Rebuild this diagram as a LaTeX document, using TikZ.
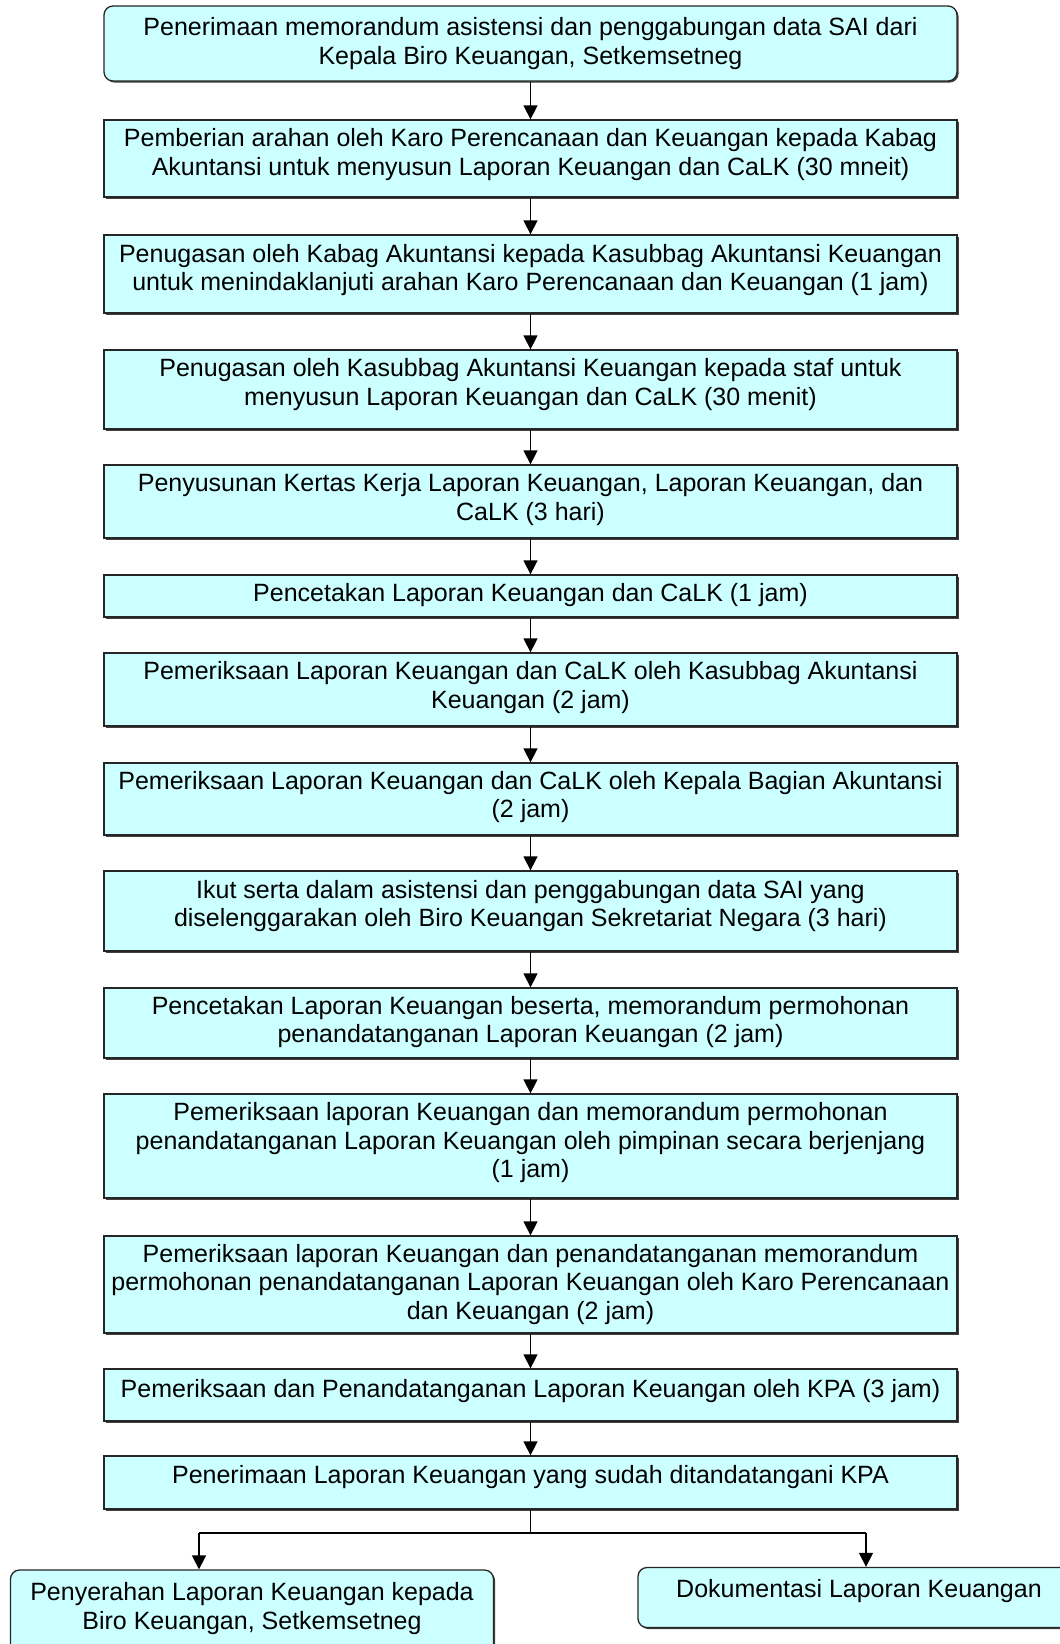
\documentclass[tikz,border=0pt]{standalone}
\usepackage{fontspec}
\setmainfont{Liberation Sans}
\usetikzlibrary{arrows.meta,shadows}
\definecolor{boxfill}{RGB}{204,255,255}
\newcommand\mkbox[6]{%
  \node[#6, minimum height=#3pt] (#1) at (530.5,-#2) {};
  \node[txt] (#1t) at ([yshift=#5pt]#1.center) {#4};}
\begin{document}
\begin{tikzpicture}[x=1pt,y=1pt,
  every node/.style={font=\fontsize{25}{28.5}\selectfont},
  stepbox/.style={draw=black!85, line width=1.3pt, fill=boxfill, minimum width=853pt,
    align=center, inner sep=0pt,
    drop shadow={shadow xshift=1.6pt, shadow yshift=-1.6pt, fill=black!75, opacity=1}},
  roundbox/.style={stepbox, rounded corners=9pt},
  txt/.style={align=center, inner sep=0pt},
  arr/.style={-{Triangle[length=14pt,width=14pt]}, line width=1.4pt}]

\useasboundingbox (0,0) rectangle (1060,-1644);
\fill[white] (0,0) rectangle (1060,-1644);

\mkbox{b1}{43.5}{75}{Penerimaan memorandum asistensi dan penggabungan data SAI dari\\Kepala Biro Keuangan, Setkemsetneg}{0}{roundbox}
\mkbox{b2}{158.5}{77}{Pemberian arahan oleh Karo Perencanaan dan Keuangan kepada Kabag\\Akuntansi untuk menyusun Laporan Keuangan dan CaLK (30 mneit)}{4}{stepbox}
\mkbox{b3}{274}{78}{Penugasan oleh Kabag Akuntansi kepada Kasubbag Akuntansi Keuangan\\untuk menindaklanjuti arahan Karo Perencanaan dan Keuangan (1 jam)}{4}{stepbox}
\mkbox{b4}{389.5}{79}{Penugasan oleh Kasubbag Akuntansi Keuangan kepada staf untuk\\menyusun Laporan Keuangan dan CaLK (30 menit)}{5}{stepbox}
\mkbox{b5}{501.5}{73}{Penyusunan Kertas Kerja Laporan Keuangan, Laporan Keuangan, dan\\CaLK (3 hari)}{2}{stepbox}
\mkbox{b6}{596}{42}{Pencetakan Laporan Keuangan dan CaLK (1 jam)}{1}{stepbox}
\mkbox{b7}{689.5}{73}{Pemeriksaan Laporan Keuangan dan CaLK oleh Kasubbag Akuntansi\\Keuangan (2 jam)}{2}{stepbox}
\mkbox{b8}{799}{72}{Pemeriksaan Laporan Keuangan dan CaLK oleh Kepala Bagian Akuntansi\\(2 jam)}{2}{stepbox}
\mkbox{b9}{911}{80}{Ikut serta dalam asistensi dan penggabungan data SAI yang\\diselenggarakan oleh Biro Keuangan Sekretariat Negara (3 hari)}{5}{stepbox}
\mkbox{b10}{1023}{70}{Pencetakan Laporan Keuangan beserta, memorandum permohonan\\penandatanganan Laporan Keuangan (2 jam)}{1}{stepbox}
\mkbox{b11}{1146}{104}{Pemeriksaan laporan Keuangan dan memorandum permohonan\\penandatanganan Laporan Keuangan oleh pimpinan secara berjenjang\\(1 jam)}{3}{stepbox}
\mkbox{b12}{1284.5}{97}{Pemeriksaan laporan Keuangan dan penandatanganan memorandum\\permohonan penandatanganan Laporan Keuangan oleh Karo Perencanaan\\dan Keuangan (2 jam)}{0}{stepbox}
\mkbox{b13}{1395}{52}{Pemeriksaan dan Penandatanganan Laporan Keuangan oleh KPA (3 jam)}{4}{stepbox}
\mkbox{b14}{1482.5}{53}{Penerimaan Laporan Keuangan yang sudah ditandatangani KPA}{5}{stepbox}

\node[roundbox, minimum width=483pt, minimum height=90pt] (b15) at (252,-1615) {};
\node[txt] (b15t) at ([yshift=6.5pt]b15.center) {Penyerahan Laporan Keuangan kepada\\Biro Keuangan, Setkemsetneg};
\node[roundbox, minimum width=442pt, minimum height=60pt] (b16) at (859,-1597.5) {};
\node[txt] (b16t) at ([yshift=6pt]b16.center) {Dokumentasi Laporan Keuangan};

\foreach \a/\b in {b1/b2,b2/b3,b3/b4,b4/b5,b5/b6,b6/b7,b7/b8,b8/b9,b9/b10,b10/b11,b11/b12,b12/b13,b13/b14}
  \draw[arr] (\a.south) -- (\b.north);

\coordinate (j) at (530.5,-1533);
\coordinate (jl) at (199,-1533);
\coordinate (jr) at (866,-1533);
\draw[line width=1.4pt] (b14.south) -- (j);
\draw[line width=1.4pt] (jl) -- (jr);
\draw[arr] (jl) -- (jl |- b15.north);
\draw[arr] (jr) -- (jr |- b16.north);
\end{tikzpicture}
\end{document}
